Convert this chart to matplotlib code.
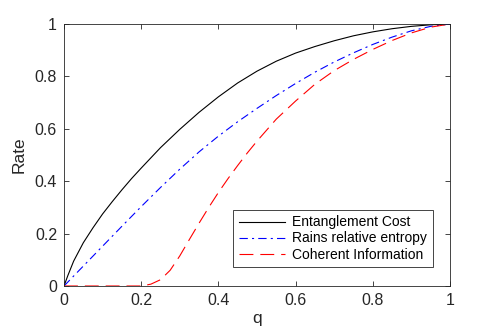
#!/usr/bin/env python3
"""Entanglement cost, Rains bound and coherent information vs q."""

import matplotlib

matplotlib.use("Agg")
import matplotlib.pyplot as plt

q_cost = [0, 0.01, 0.025, 0.05, 0.075, 0.1, 0.125, 0.15, 0.175, 0.2, 0.25,
          0.3, 0.35, 0.4, 0.45, 0.5, 0.55, 0.6, 0.65, 0.7, 0.75, 0.8, 0.85,
          0.9, 0.95, 1.0]
cost = [0, 0.04, 0.095, 0.165, 0.222, 0.275, 0.322, 0.367, 0.41, 0.45, 0.528,
        0.598, 0.663, 0.722, 0.775, 0.82, 0.858, 0.889, 0.914, 0.936, 0.955,
        0.97, 0.982, 0.991, 0.997, 1.0]

q_rains = [0, 0.05, 0.1, 0.15, 0.2, 0.25, 0.3, 0.35, 0.4, 0.45, 0.5, 0.55,
           0.6, 0.65, 0.7, 0.75, 0.8, 0.85, 0.9, 0.95, 1.0]
rains = [0, 0.076, 0.152, 0.228, 0.303, 0.376, 0.446, 0.512, 0.572, 0.627,
         0.678, 0.727, 0.773, 0.816, 0.855, 0.89, 0.922, 0.95, 0.974, 0.991,
         1.0]

q_coh = [0, 0.2, 0.225, 0.25, 0.275, 0.3, 0.325, 0.35, 0.375, 0.4, 0.425,
         0.45, 0.475, 0.5, 0.55, 0.6, 0.65, 0.7, 0.75, 0.8, 0.85, 0.9, 0.95,
         1.0]
coh = [0, 0, 0.007, 0.024, 0.06, 0.115, 0.178, 0.24, 0.3, 0.357, 0.41, 0.46,
       0.508, 0.553, 0.637, 0.706, 0.77, 0.822, 0.865, 0.903, 0.937, 0.966,
       0.988, 1.0]

ticks = [0, 0.2, 0.4, 0.6, 0.8, 1]
tick_labels = ["0", "0.2", "0.4", "0.6", "0.8", "1"]


def main():
    plt.rcParams["font.family"] = ["Liberation Sans", "DejaVu Sans"]
    plt.rcParams["lines.scale_dashes"] = False
    axis_color = "#262626"

    fig = plt.figure(figsize=(4.98, 3.34), dpi=100)
    ax = fig.add_axes([64 / 498, 1 - 286 / 334, 386 / 498, 262 / 334])

    ax.plot(q_cost, cost, color="black", linewidth=0.8, label="Entanglement Cost")
    ax.plot(q_rains, rains, color="blue", linewidth=0.8,
            dashes=(6, 3, 1.5, 3), label="Rains relative entropy")
    ax.plot(q_coh, coh, color="red", linewidth=0.8,
            dashes=(10, 5), label="Coherent Information")

    ax.set_xlim(0, 1)
    ax.set_ylim(0, 1)
    ax.set_xticks(ticks)
    ax.set_xticklabels(tick_labels)
    ax.set_yticks(ticks)
    ax.set_yticklabels(tick_labels)
    ax.tick_params(direction="in", top=True, right=True, length=3.5,
                   width=0.6, colors=axis_color, labelsize=11.5, pad=5)
    for spine in ax.spines.values():
        spine.set_color(axis_color)
        spine.set_linewidth(0.6)

    ax.set_xlabel("q", fontsize=12.5, color=axis_color, labelpad=2)
    ax.set_ylabel("Rate", fontsize=12.5, color=axis_color, labelpad=6)

    leg = ax.legend(loc="lower right", bbox_to_anchor=(0.955, 0.072),
                    fontsize=10, fancybox=False, framealpha=1,
                    edgecolor=axis_color, borderpad=0.4, labelspacing=0.15,
                    handlelength=3.3, handletextpad=0.55, borderaxespad=0)
    leg.get_frame().set_linewidth(0.6)

    fig.savefig("out.png", dpi=100)
    return 0


if __name__ == "__main__":
    raise SystemExit(main())
